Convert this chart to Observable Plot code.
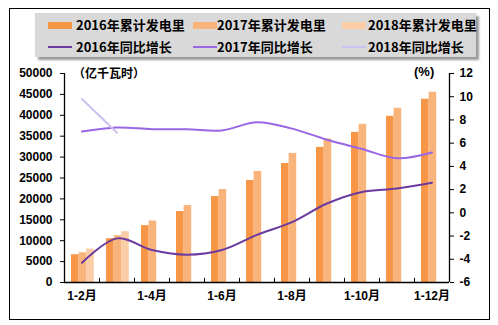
<!DOCTYPE html>
<html><head><meta charset="utf-8">
<script src="https://cdn.jsdelivr.net/npm/d3@7"></script>
<script src="https://cdn.jsdelivr.net/npm/@observablehq/plot@0.6"></script>
<style>
body{margin:0;background:#fff;}
#wrap{position:relative;width:498px;height:325px;overflow:hidden;font-family:"Liberation Sans","Noto Sans CJK SC",sans-serif;}
#border{position:absolute;left:9px;top:8px;width:481px;height:312px;border:1px solid #000;box-sizing:border-box;}
#chart{position:absolute;left:0;top:0;}
#legend{position:absolute;left:35px;top:13px;width:441px;height:44px;background:#D9D9D9;box-shadow:3px 3px 2px #9a9a9a;}
.item{position:absolute;height:16px;font:bold 13px "Noto Sans CJK SC",sans-serif;line-height:16px;white-space:nowrap;color:#000;}
.sw{position:absolute;left:0;width:24px;}
.lbl{position:absolute;top:0;}
.unit{position:absolute;font:bold 12px "Noto Sans CJK SC","Liberation Sans",sans-serif;white-space:nowrap;}
</style></head>
<body>
<div id="wrap">
  <div id="border"></div>
  <div id="chart"></div>
  <div id="legend"></div>
  <div class="unit" style="left:73px;top:64px;">（亿千瓦时）</div>
  <div class="unit" style="left:414px;top:64px;font-family:'Liberation Sans',sans-serif;font-size:13px;">(%)</div>
</div>
<script>
const months = ["1-2月","1-3月","1-4月","1-5月","1-6月","1-7月","1-8月","1-9月","1-10月","1-11月","1-12月"];
const xLabels = ["1-2月","1-4月","1-6月","1-8月","1-10月","1-12月"];
const gen2016 = [6640,10480,13600,16960,20560,24400,28480,32320,35920,39760,43840];
const gen2017 = [7120,11200,14720,18400,22240,26560,30880,34320,37840,41680,45520];
const gen2018 = [8000,12160];
const growth2016 = [-4.3,-2.2,-3.2,-3.6,-3.2,-1.9,-0.8,0.8,1.8,2.1,2.6];
const growth2017 = [7.0,7.35,7.2,7.2,7.1,7.8,7.25,6.3,5.5,4.7,5.2];
const growth2018 = [9.8,6.9];
const leftTicks = [0,5000,10000,15000,20000,25000,30000,35000,40000,45000,50000];
const rightTicks = [-6,-4,-2,0,2,4,6,8,10,12];
const seriesNames = ["2016年累计发电里","2017年累计发电里","2018年累计发电里","2016年同比增长","2017年同比增长","2018年同比增长"];
const barColors = ["#F79646","#F9B47C","#FBCDA6"];
const lineColors = ["#6A3A9E","#9966E6","#CCC0EE"];

const yMax = 50000, rMin = -6, rMax = 12;
const toY = v => (v - rMin) / (rMax - rMin) * yMax;
const fromY = d => Math.round(d / yMax * (rMax - rMin) + rMin);

const rows = arr => arr.map((v, i) => ({month: months[i], value: v}));
const bw = 35, off = 7, bar = 7.6;
const barMark = (arr, k) => Plot.barY(rows(arr), {
  x: "month", y: "value", fill: barColors[k],
  insetLeft: off + bar * k, insetRight: bw - off - bar * (k + 1)
});
const lineMark = (arr, k) => Plot.line(rows(arr), {
  x: "month", y: d => toY(d.value), stroke: lineColors[k], strokeWidth: 2, curve: "catmull-rom"
});

const chart = Plot.plot({
  width: 498, height: 325,
  marginLeft: 64, marginRight: 49, marginTop: 73, marginBottom: 43,
  style: {fontFamily: '"Liberation Sans","Noto Sans CJK SC",sans-serif', fontSize: "12px", fontWeight: "bold", color: "#000", background: "transparent"},
  x: {type: "band", domain: months, padding: 0, label: null},
  y: {domain: [0, yMax], label: null},
  marks: [
    barMark(gen2016, 0), barMark(gen2017, 1), barMark(gen2018, 2),
    lineMark(growth2016, 0), lineMark(growth2017, 1), lineMark(growth2018, 2),
    Plot.ruleY([0], {stroke: "#000", strokeWidth: 1.3}),
    Plot.ruleX([months[0]], {dx: -bw / 2, y1: 0, y2: yMax, stroke: "#000", strokeWidth: 1.3}),
    Plot.ruleX([months[months.length - 1]], {dx: bw / 2, y1: 0, y2: yMax, stroke: "#000", strokeWidth: 1.3}),
    Plot.ruleX(months.slice(1), {dx: -bw / 2, y1: 0, y2: 1000, stroke: "#000"}),
    Plot.axisY({anchor: "left", label: null, ticks: leftTicks, tickFormat: d => String(d), tickSize: 4, tickPadding: 8}),
    Plot.axisY({anchor: "right", label: null, ticks: rightTicks.map(toY), tickFormat: d => String(fromY(d)), tickSize: 4, tickPadding: 6}),
    Plot.axisX({label: null, ticks: xLabels, tickSize: 0, tickPadding: 9})
  ]
});
document.getElementById("chart").appendChild(chart);

const legend = document.getElementById("legend");
const colX = [13, 158, 307];
const txtX = [41, 182, 333];
const rowY = [4, 26];
seriesNames.forEach((name, i) => {
  const r = i < 3 ? 0 : 1, c = i % 3;
  const it = document.createElement("div");
  it.className = "item";
  it.style.left = colX[c] + "px";
  it.style.top = rowY[r] + "px";
  const sw = document.createElement("div");
  sw.className = "sw";
  if (r === 0) { sw.style.top = "5px"; sw.style.height = "7px"; sw.style.background = barColors[c]; }
  else { sw.style.top = "7px"; sw.style.height = "2px"; sw.style.background = lineColors[c]; }
  const lb = document.createElement("div");
  lb.className = "lbl";
  lb.style.left = (txtX[c] - colX[c]) + "px";
  lb.textContent = name;
  it.appendChild(sw); it.appendChild(lb);
  legend.appendChild(it);
});
</script>
</body></html>
